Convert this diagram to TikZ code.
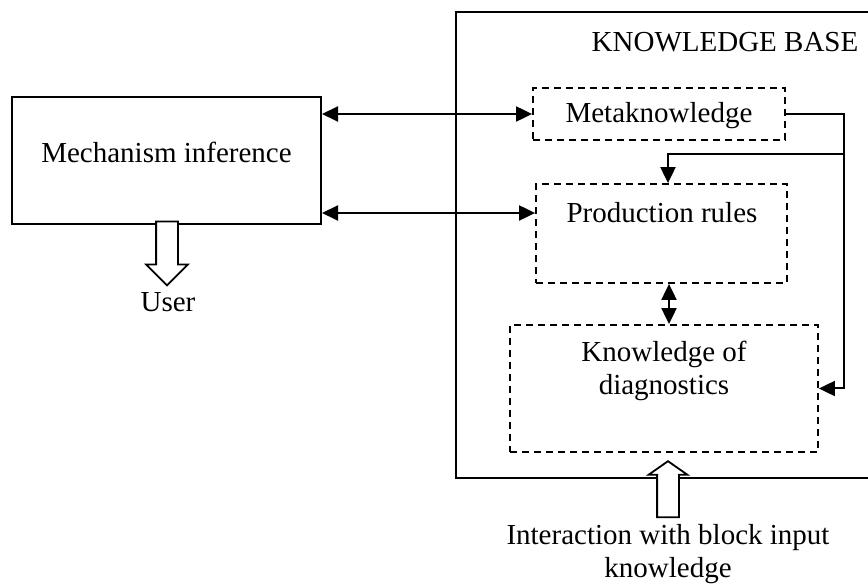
\documentclass[tikz,border=0pt]{standalone}
\usepackage{fontspec}
\setmainfont{Liberation Serif}
\usetikzlibrary{arrows.meta,shapes.arrows}

\begin{document}
\begin{tikzpicture}[x=1pt, y=-1pt,
        font=\fontsize{29}{33}\selectfont,
        block/.style={rectangle, draw=black, line width=2pt, inner sep=0pt},
        part/.style={rectangle, draw=black, line width=1.8pt, dash pattern=on 7pt off 5pt, inner sep=0pt},
        txt/.style={align=center, inner sep=0pt},
        arrow/.style={-{Triangle[length=16pt,width=15pt]}, line width=2pt},
        twoway/.style={{Triangle[length=16pt,width=15pt]}-{Triangle[length=16pt,width=15pt]}, line width=2pt},
        hollow/.style={single arrow, draw=black, fill=white, line width=1.8pt, inner xsep=0pt,
                      inner ysep=10pt, single arrow head extend=10pt}
    ]
        \clip (0,0) rectangle (868,585);

        % Inference side
        \node[block, minimum width=309, minimum height=127] (mech) at (166.5,160.5) {};
        \node[txt, yshift=8pt] (mechtext) at (mech.center) {Mechanism inference};

        % Knowledge base frame and its parts
        \node[block, minimum width=440, minimum height=466] (kb) at (676,245) {};
        \node[txt] (kbtitle) at (725,42) {KNOWLEDGE BASE};
        \node[part, minimum width=252, minimum height=52] (meta) at (659,114) {};
        \node[txt, yshift=-2pt] (metatext) at (meta.center) {Metaknowledge};
        \node[part, minimum width=251, minimum height=99] (prod) at (661.5,233.5) {};
        \node[txt] (prodtext) at (662,213) {Production rules};
        \node[part, minimum width=308, minimum height=127] (diag) at (664,388.5) {};
        \node[txt] (diagtext) at (664,371) {Knowledge of\\diagnostics};

        % Links between the blocks
        \draw[twoway] (meta.west -| mech.east) -- (meta.west);
        \draw[twoway] (mech.east |- prodtext) -- (prod.west |- prodtext);
        \draw[arrow] (meta.east) -- ++(58,0) coordinate (turn) |- (diag.east);
        \coordinate (branch) at (843,154);
        \draw[arrow] (branch) -| ([xshift=6.5pt]prod.north);
        \draw[twoway] ([xshift=7.5pt]prod.south) -- ([xshift=7.5pt]prod.south |- diag.north);

        % Hollow arrows in and out
        \node[hollow, rotate=-90, minimum height=64] (toUser) at (167,248) {};
        \node[txt] (user) at (168,302) {User};
        \node[hollow, rotate=90, minimum height=56, single arrow head extend=8.5pt, single arrow tip angle=110] (fromInput) at (668,493) {};
        \node[txt] (input) at (668,554) {Interaction with block input\\knowledge};
    \end{tikzpicture}
\end{document}
